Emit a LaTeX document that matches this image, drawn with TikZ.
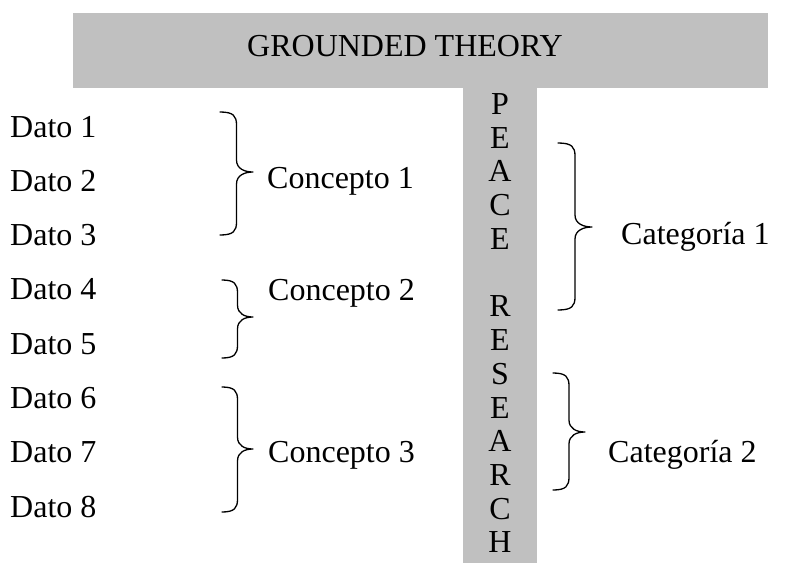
\documentclass[tikz,border=0pt]{standalone}
\usepackage{fontspec}
\setmainfont{Liberation Serif}
\definecolor{barfill}{RGB}{192,192,192}
\tikzset{
  txt/.style={anchor=base west, inner sep=0pt, font=\fontsize{32}{38}\selectfont},
  letter/.style={anchor=base, inner sep=0pt, font=\fontsize{32}{38}\selectfont},
  bracestyle/.style={draw=black, line width=1.3pt, line cap=round, line join=round},
  barstyle/.style={fill=barfill, draw=none}
}
\newcommand\mybrace[5]{% x0 xtip ytop ytip ybot
  \pgfmathsetmacro\bxv{(#1+#2)/2}
  \draw[bracestyle] (#1,#3) .. controls (\bxv-3,#3) and (\bxv,#3+4) .. (\bxv,#3+13)
    -- (\bxv,#4-12) .. controls (\bxv,#4-3) and (#2-8,#4) .. (#2,#4)
    .. controls (#2-8,#4) and (\bxv,#4+3) .. (\bxv,#4+12)
    -- (\bxv,#5-13) .. controls (\bxv,#5-4) and (\bxv-3,#5) .. (#1,#5);
}
\begin{document}
\begin{tikzpicture}[x=1pt,y=-1pt]
\useasboundingbox (0,0) rectangle (790,563);
% bars
\path[barstyle] (73,13) rectangle (768,88);
\path[barstyle] (463,87) rectangle (537,563);
\node[letter] (gt) at (405,56) {GROUNDED THEORY};
% vertical letters
\foreach \l/\yy [count=\i] in {P/114,E/148,A/181,C/215,E/249,R/316,E/350,S/384,E/418,A/451,R/485,C/519,H/552}{
  \node[letter] (v\i) at (500,\yy) {\l};
}
% datos
\foreach \k in {1,...,8}{
  \pgfmathsetmacro\yy{137+54.3*(\k-1)}
  \node[txt] (d\k) at (10,\yy) {Dato \k};
}
% conceptos
\node[txt] (c1) at (267,188) {Concepto 1};
\node[txt] (c2) at (268,300) {Concepto 2};
\node[txt] (c3) at (268,462) {Concepto 3};
% categorias
\node[txt] (k1) at (621,244) {Categoría 1};
\node[txt] (k2) at (608,462) {Categoría 2};
% braces
\mybrace{220}{253}{112}{172}{235}
\mybrace{222}{253}{280}{317}{358}
\mybrace{222}{253}{387}{449}{512}
\mybrace{558}{592}{143}{227}{310}
\mybrace{553}{585}{373}{432}{490}
\end{tikzpicture}
\end{document}
